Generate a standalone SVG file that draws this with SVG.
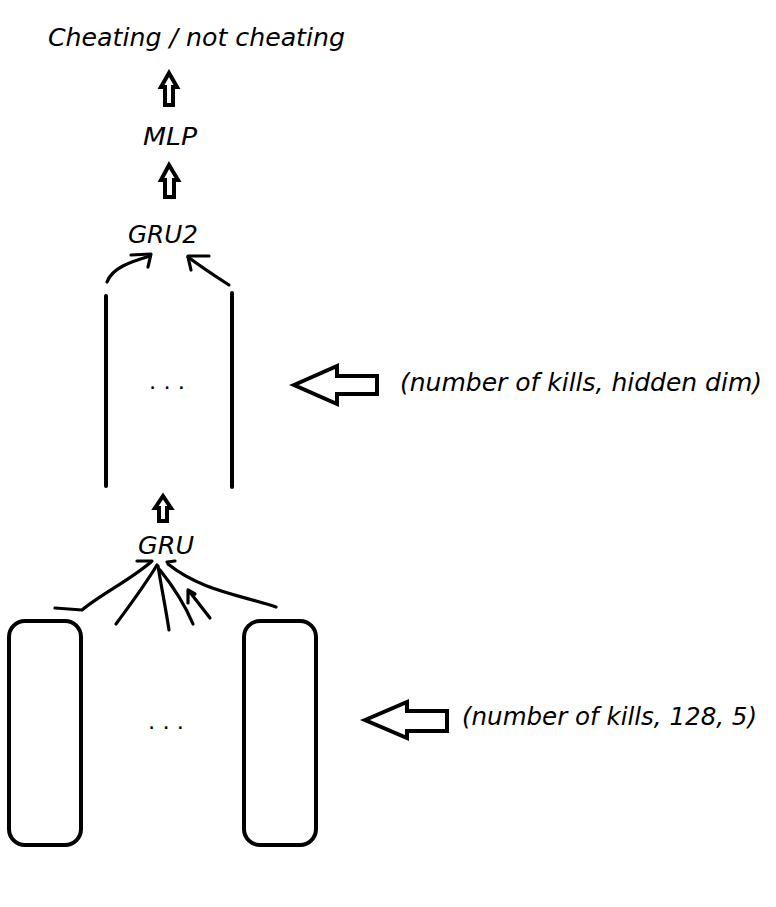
<svg xmlns="http://www.w3.org/2000/svg" width="776" height="907" viewBox="0 0 776 907">
<style>
.t{font-family:"DejaVu Sans","Liberation Sans",sans-serif;font-style:italic;font-size:25px;fill:#000}
.d{font-family:"DejaVu Sans",sans-serif;font-size:22px;fill:#000}
.blk{fill:#fff;stroke:#000;stroke-width:4;stroke-linejoin:miter}
.ln{fill:none;stroke:#000;stroke-width:3.2;stroke-linecap:round;stroke-linejoin:round}
.bar{fill:none;stroke:#000;stroke-width:4;stroke-linecap:round}
.box{fill:#fff;stroke:#000;stroke-width:4}
</style>
<rect width="776" height="907" fill="#fff"/>
<g id="output"><text class="t" x="48" y="46" textLength="297" lengthAdjust="spacingAndGlyphs">Cheating / not cheating</text></g>
<g id="mlp"><text class="t" x="143" y="145" textLength="54" lengthAdjust="spacingAndGlyphs">MLP</text></g>
<g id="gru2"><text class="t" x="128" y="243" textLength="70" lengthAdjust="spacingAndGlyphs">GRU2</text></g>
<g id="hidden">
<line class="bar" x1="106" y1="296" x2="106" y2="486"/>
<line class="bar" x1="232" y1="293" x2="232" y2="487"/>
<text class="d" x="149" y="389" textLength="36" lengthAdjust="spacingAndGlyphs">. . .</text>
</g>
<g id="gru"><text class="t" x="138" y="554" textLength="56" lengthAdjust="spacingAndGlyphs">GRU</text></g>
<g id="inputs">
<rect class="box" x="9" y="621" width="72" height="224" rx="16"/>
<rect class="box" x="244" y="621" width="72" height="224" rx="16"/>
<text class="d" x="148" y="729" textLength="36" lengthAdjust="spacingAndGlyphs">. . .</text>
</g>
<g id="label-hidden"><text class="t" x="400" y="391" textLength="362" lengthAdjust="spacingAndGlyphs">(number of kills, hidden dim)</text></g>
<g id="label-input"><text class="t" x="462" y="725" textLength="295" lengthAdjust="spacingAndGlyphs">(number of kills, 128, 5)</text></g>
<g id="connectors">
<polygon class="blk" points="169,73 177,87 173,87 173,105 165,105 165,87 161,87"/>
<polygon class="blk" points="169,165 178,180 174,180 174,197 165,197 165,180 161,180"/>
<polygon class="blk" points="163,496 171,508 167,508 167,521 159,521 159,508 155,508"/>
<polygon class="blk" points="294,385 337,366 337,376 377,376 377,394 337,394 337,404"/>
<polygon class="blk" points="365,720 407,702 407,711 447,711 447,731 407,731 407,738"/>
<path class="ln" d="M107,282 C112,268 130,262 150,256"/>
<path class="ln" d="M131,255 L151,254 L148,267"/>
<path class="ln" d="M229,285 C215,276 200,266 188,257"/>
<path class="ln" d="M188,256 L209,256 M188,257 L191,270"/>
<path class="ln" d="M55,608 L82,610 C100,595 130,580 151,562"/>
<path class="ln" d="M137,561 L152,561"/>
<path class="ln" d="M116,624 C130,605 145,585 157,565"/>
<path class="ln" d="M169,630 C166,610 161,585 158,566"/>
<path class="ln" d="M193,624 C185,605 172,585 160,570"/>
<path class="ln" d="M210,618 L189,591 M188,590 L188,603 M188,590 L195,594"/>
<path class="ln" d="M276,607 C240,595 200,590 168,564"/>
<path class="ln" d="M167,562 L175,561"/>
</g>
</svg>
